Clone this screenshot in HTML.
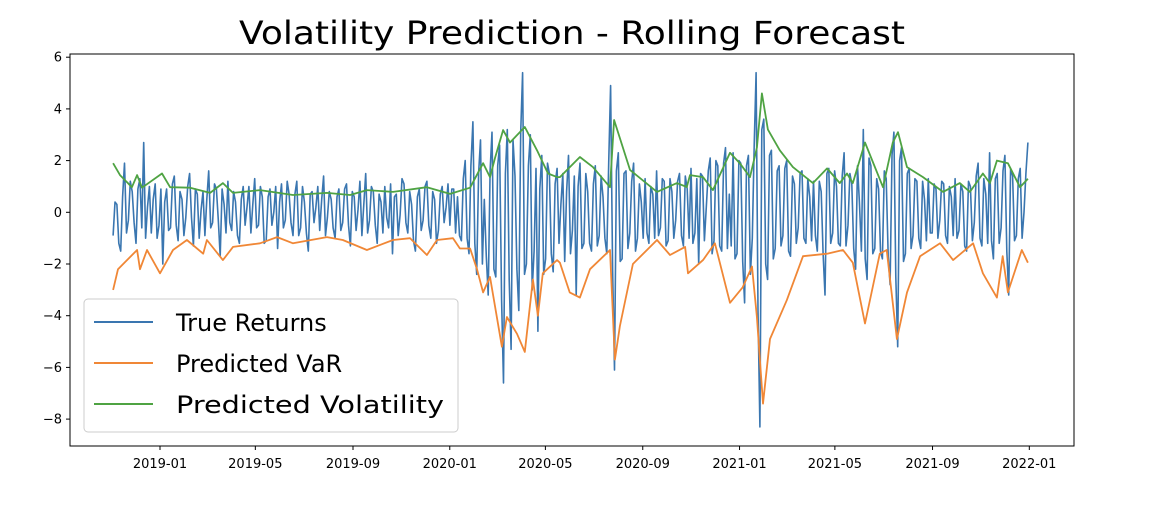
<!DOCTYPE html>
<html><head><meta charset="utf-8"><style>
html,body{margin:0;padding:0;background:#fff;}
svg{display:block;font-family:"DejaVu Sans","Liberation Sans",sans-serif;}
</style></head><body>
<svg id="chart" width="1150" height="510" viewBox="0 0 1150 510" xmlns="http://www.w3.org/2000/svg">
<text x="572" y="44" text-anchor="middle" font-size="32" textLength="666" lengthAdjust="spacingAndGlyphs" fill="#000">Volatility Prediction - Rolling Forecast</text>
<g id="plot"></g>
<rect x="70" y="54" width="1004" height="392" fill="none" stroke="#000" stroke-width="1"/>
<g id="axes"></g>
<g>
<rect x="84" y="299" width="374" height="133" rx="4" fill="#fff" fill-opacity="0.85" stroke="#ccc" stroke-width="1"/>
<line x1="94" y1="322" x2="153" y2="322" stroke="#3a76b0" stroke-width="2"/>
<text x="176" y="331" font-size="24" fill="#000">True Returns</text>
<line x1="94" y1="363" x2="153" y2="363" stroke="#f08736" stroke-width="2"/>
<text x="176" y="372" font-size="24" fill="#000">Predicted VaR</text>
<line x1="94" y1="404" x2="153" y2="404" stroke="#4fa343" stroke-width="2"/>
<text x="176" y="413" font-size="24" textLength="268" lengthAdjust="spacingAndGlyphs" fill="#000">Predicted Volatility</text>
</g>
</svg>
<script>
// Time in years since 2019-01-01
const returnsStart = -0.162;
const returnsEnd = 2.995;
const returnsEven = [
-0.9,0.3,-1.5,1.9,-0.3,0.8,-1.2,1.3,2.7,0.2,
-0.8,1.1,-0.5,-2.0,0.9,-0.6,1.4,-1.1,0.5,-0.2,
1.5,-1.3,0.7,0.1,-0.9,1.6,-0.4,0.9,-1.7,0.3,
1.2,-0.7,0.4,-1.2,1.0,0.2,-0.8,1.3,-0.5,0.6,
-1.1,0.9,0.0,-1.4,1.1,-0.3,0.7,-0.9,1.2,-0.6,
0.4,-1.5,0.8,0.2,-0.7,1.4,-0.2,0.5,-1.0,0.9,
-0.4,1.1,-1.3,0.6,0.1,-0.9,1.5,-0.3,0.8,-1.2,
0.4,1.0,-0.6,-1.6,0.7,-0.1,1.1,-0.8,0.3,-1.5,
0.9,-0.3,1.2,-1.0,0.5,-0.7,1.0,0.2,-0.5,0.9,
0.6,-1.1,2.0,-1.6,3.5,-2.4,2.8,0.5,-3.2,3.1,
-2.5,2.6,-6.6,3.2,-5.3,1.4,-3.8,5.4,-2.0,3.0,
-1.5,-4.6,2.2,-1.8,1.5,-2.3,1.7,0.3,-1.9,2.2,
-0.7,-3.2,1.9,-1.2,0.8,-1.5,1.8,-0.9,0.6,-1.6,
4.9,-6.1,2.3,-1.8,1.6,-0.8,1.9,-1.0,0.4,1.3,
-1.2,0.7,1.6,-0.6,1.2,-1.1,0.8,-0.3,1.5,-1.3,
0.9,1.7,-0.8,-2.0,1.4,0.2,2.1,-1.1,1.8,-1.5,
2.5,0.7,2.3,-1.6,1.9,-3.5,2.2,-1.0,5.4,-8.3,
3.6,-2.6,2.4,-1.4,1.8,-0.9,2.0,-1.7,1.1,-0.6,
1.6,-1.2,0.6,1.2,-1.5,0.8,-3.2,1.7,-0.8,1.0,
-1.3,2.3,-0.5,1.1,-2.2,0.4,3.2,-2.6,1.8,-1.4,
0.9,-1.8,1.3,-2.8,3.1,-5.2,2.5,-1.6,1.7,-0.9,
1.2,-1.4,0.5,1.3,-0.8,0.9,-0.3,1.1,-1.2,0.6,
1.3,-0.7,0.8,-1.5,1.0,-0.4,1.9,-1.3,0.7,2.3,
-1.8,1.5,-0.6,2.2,-3.2,1.4,-0.9,1.7,0.0,2.7];
const returnsOdd = [
0.4,-1.2,0.6,-0.8,1.2,-0.4,0.9,-0.6,-1.0,1.0,
0.5,-1.0,0.9,0.4,-0.7,1.1,-0.5,0.8,-0.9,1.0,
-0.2,0.9,-1.0,0.8,0.5,-0.6,1.1,-0.3,0.9,-0.8,
-0.4,0.8,-0.9,0.5,-0.5,1.0,0.3,-0.6,1.0,-1.2,
0.6,-0.5,1.0,0.4,-0.6,1.2,-0.4,0.7,-0.9,1.0,
-0.8,0.7,-0.4,1.0,0.5,-0.9,0.8,-0.6,0.6,-0.7,
0.9,-0.5,0.8,-0.7,1.2,0.3,-0.8,1.0,-0.5,0.7,
-0.8,-0.2,1.1,0.6,-0.9,1.3,-0.4,0.8,-1.1,0.6,
-0.7,1.0,-0.5,0.8,-1.2,0.7,-0.4,1.1,0.9,-0.8,
-0.9,1.3,-1.0,1.8,-1.2,1.5,-2.0,-1.7,1.6,-2.2,
1.8,-3.4,1.5,-2.6,2.8,-2.2,3.1,-2.4,1.8,-3.0,
1.7,0.9,-2.4,1.9,-1.6,1.1,-1.2,1.5,0.8,-1.6,
1.4,1.0,-1.4,1.5,-1.2,1.1,-1.3,1.4,-1.0,1.9,
-2.2,1.6,-1.9,1.5,-1.4,1.2,-1.5,1.1,-1.0,-0.8,
1.0,-1.0,-0.9,1.3,-1.3,1.3,-1.0,1.2,-0.9,1.4,
-1.0,-1.2,1.3,1.5,-1.1,1.6,-1.6,2.0,-1.3,1.9,
-1.4,-1.3,-1.8,2.0,-1.9,1.8,-2.4,2.6,-3.8,3.2,
-2.0,2.2,-1.8,1.6,-1.3,1.7,-1.5,1.4,-1.2,1.5,
-1.0,1.3,-1.1,-0.9,1.2,-1.6,1.5,-1.2,1.6,-1.2,
1.4,-1.3,1.5,-1.4,1.8,-1.5,-1.8,2.1,-1.6,1.3,
-1.5,1.6,-1.7,2.2,-2.5,2.0,-1.9,1.5,-1.4,1.3,
-1.0,1.2,-1.1,-0.8,1.1,-1.0,1.2,-0.9,1.0,-0.9,
-1.0,1.1,-1.3,1.2,-1.1,1.4,-1.0,1.3,-1.2,-1.1,
1.3,-1.2,1.6,-1.5,1.7,-1.1,1.3,-1.0,1.5];
const volTimes = [-0.162,-0.138,-0.097,-0.079,-0.062,0.007,0.035,0.104,0.173,0.217,0.252,0.345,0.459,0.576,0.656,0.714,0.804,0.921,1.001,1.070,1.115,1.139,1.156,1.184,1.208,1.259,1.301,1.339,1.370,1.380,1.449,1.494,1.553,1.567,1.622,1.715,1.784,1.818,1.829,1.874,1.908,1.967,2.001,2.036,2.060,2.077,2.098,2.139,2.184,2.253,2.302,2.346,2.371,2.391,2.433,2.495,2.529,2.547,2.578,2.633,2.702,2.760,2.795,2.840,2.864,2.888,2.926,2.968,2.995];
const volValues = [1.9,1.44,0.97,1.44,0.95,1.5,0.97,0.95,0.75,1.13,0.75,0.86,0.67,0.75,0.67,0.86,0.79,0.97,0.71,0.95,1.9,1.36,2.1,3.18,2.7,3.3,2.4,1.5,1.36,1.36,2.14,1.75,0.97,3.57,1.64,0.79,1.13,0.98,1.44,1.36,0.86,2.3,1.9,1.36,2.5,4.6,3.2,2.4,1.75,1.13,1.7,1.13,1.5,1.13,2.7,0.97,2.7,3.1,1.75,1.36,0.79,1.13,0.79,1.5,1.13,2.0,1.9,0.97,1.3];
const varTimes = [-0.162,-0.145,-0.114,-0.079,-0.069,-0.045,0.0,0.045,0.093,0.149,0.162,0.217,0.252,0.345,0.404,0.459,0.576,0.631,0.714,0.804,0.863,0.921,0.956,1.011,1.035,1.070,1.094,1.115,1.139,1.180,1.197,1.232,1.259,1.287,1.304,1.321,1.370,1.380,1.414,1.449,1.484,1.553,1.570,1.587,1.632,1.715,1.760,1.812,1.822,1.874,1.915,1.967,2.011,2.043,2.060,2.081,2.105,2.163,2.219,2.302,2.357,2.391,2.433,2.484,2.508,2.543,2.578,2.623,2.692,2.737,2.806,2.840,2.888,2.908,2.926,2.974,2.995];
const varValues = [-3.0,-2.2,-1.85,-1.46,-2.2,-1.46,-2.36,-1.46,-1.07,-1.6,-1.07,-1.85,-1.34,-1.2,-0.96,-1.2,-0.96,-1.07,-1.46,-1.07,-1.0,-1.65,-1.07,-1.0,-1.4,-1.4,-2.2,-3.1,-2.5,-5.2,-4.05,-4.7,-5.4,-2.6,-4.0,-2.36,-1.85,-1.95,-3.1,-3.3,-2.2,-1.46,-5.7,-4.4,-2.0,-1.07,-1.65,-1.34,-2.36,-1.85,-1.2,-3.5,-2.9,-2.1,-4.05,-7.4,-4.9,-3.4,-1.7,-1.6,-1.46,-1.95,-4.3,-1.6,-1.46,-4.9,-3.1,-1.7,-1.2,-1.85,-1.2,-2.36,-3.3,-1.7,-3.1,-1.46,-1.95];
const yTicks = [6,4,2,0,-2,-4,-6,-8];
const xTickLabels = ["2019-01","2019-05","2019-09","2020-01","2020-05","2020-09","2021-01","2021-05","2021-09","2022-01"];
const xTickTimes = [0,0.329,0.666,1.0,1.330,1.666,2.0,2.329,2.666,3.0];

const NS="http://www.w3.org/2000/svg";
const xScale = t => 160 + t*289.77;
const yScale = v => 212.3 - v*25.85;
const plot=document.getElementById('plot'), axes=document.getElementById('axes');
function mk(tag, attrs, parent){const e=document.createElementNS(NS,tag);for(const k in attrs)e.setAttribute(k,attrs[k]);parent.appendChild(e);return e;}
function poly(times, vals, color, name, w){
  const pts = vals.map((v,i)=>xScale(times[i]).toFixed(1)+","+yScale(v).toFixed(1)).join(" ");
  const p = mk('polyline',{points:pts,fill:'none',stroke:color,'stroke-width':w,'stroke-linejoin':'round'},plot);
  
  
}
const returnValues = [];
returnsEven.forEach((v,i)=>{ returnValues.push(v); if(i<returnsOdd.length) returnValues.push(returnsOdd[i]); });
const retTimes = returnValues.map((v,i)=>returnsStart + i*(returnsEnd-returnsStart)/(returnValues.length-1));
poly(retTimes, returnValues, '#3a76b0', 'true-returns-line', 1.6);
poly(varTimes, varValues, '#f08736', 'predicted-var-line', 1.8);
poly(volTimes, volValues, '#4fa343', 'predicted-volatility-line', 1.8);
yTicks.forEach(v=>{
  const y=yScale(v);
  const l=mk('line',{x1:66,x2:70,y1:y,y2:y,stroke:'#000'},axes);
  
  
  const t=mk('text',{x:62,y:y+4.5,'text-anchor':'end','font-size':13,fill:'#000'},axes);
  t.textContent = v<0 ? '\u2212'+Math.abs(v) : String(v);
  
  
});
xTickLabels.forEach((lab,i)=>{
  const x=xScale(xTickTimes[i]);
  const l=mk('line',{x1:x,x2:x,y1:446,y2:450,stroke:'#000'},axes);
  
  
  const t=mk('text',{x:x,y:468,'text-anchor':'middle','font-size':13,fill:'#000'},axes);
  t.textContent = lab;
  
  
});
</script>
</body></html>
